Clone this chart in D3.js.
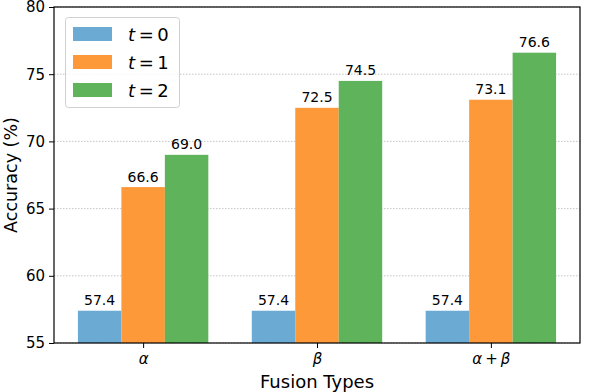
<!DOCTYPE html>
<html>
<head>
<meta charset="utf-8">
<script src="https://cdn.jsdelivr.net/npm/d3@7"></script>
<style>
  body { margin: 0; background: #fff; }
  text { font-family: "DejaVu Sans", sans-serif; }
</style>
</head>
<body>
<svg id="plot"></svg>
<script>
// categories and series
const categories = ['α', 'β', 'α + β']
const seriesNames = ['0', '1', '2']
const t0 = [57.4, 57.4, 57.4]
const t1 = [66.6, 72.5, 73.1]
const t2 = [69.0, 74.5, 76.6]
const yTicks = [55, 60, 65, 70, 75, 80]

const colors = ['#6aaad3', '#fd9938', '#5eb35b']
const series = [t0, t1, t2]

const width = 598
const height = 392
const margin = ({top: 7, right: 18, bottom: 49, left: 54})

const svg = d3.select('svg#plot')
  .attr('width', width)
  .attr('height', height)

// matplotlib-like x: bar width 0.25, default 5% margins
const barW = 0.25
const lo = -1.5 * barW, hi = 2 + 1.5 * barW
const pad = (hi - lo) * 0.05
const x = d3.scaleLinear()
  .domain([lo - pad, hi + pad])
  .range([margin.left, width - margin.right])
const y = d3.scaleLinear()
  .domain([55, 80])
  .range([height - margin.bottom, margin.top])

// grid
svg.append('g')
  .selectAll('line')
  .data(yTicks)
  .join('line')
    .attr('x1', margin.left)
    .attr('x2', width - margin.right)
    .attr('y1', d => y(d))
    .attr('y2', d => y(d))
    .attr('stroke', '#b8b8b8')
    .attr('stroke-width', 0.8)
    .attr('stroke-dasharray', '1.5,1.5')

// bars
series.forEach((vals, s) => {
  const g = svg.append('g')
  const off = (s - 1) * barW
  g.selectAll('rect')
    .data(vals)
    .join('rect')
      .attr('x', (d, i) => x(i + off - barW / 2))
      .attr('width', x(barW) - x(0))
      .attr('y', d => y(d))
      .attr('height', d => y(55) - y(d))
      .attr('fill', colors[s])
  g.selectAll('text')
    .data(vals)
    .join('text')
      .attr('x', (d, i) => x(i + off))
      .attr('y', d => y(d) - 5.5)
      .attr('text-anchor', 'middle')
      .attr('font-size', 14)
      .attr('fill', '#000')
      .text(d => d.toFixed(1))
})

// axes
const yAxis = svg.append('g')
  .attr('transform', `translate(${margin.left},0)`)
  .call(d3.axisLeft(y).tickValues(yTicks).tickSize(5).tickPadding(4))
yAxis.select('.domain').remove()
yAxis.selectAll('text').attr('font-size', 15).attr('font-family', 'DejaVu Sans')
yAxis.selectAll('line').attr('stroke-width', 1)

const xAxis = svg.append('g')
  .attr('transform', `translate(0,${height - margin.bottom})`)
  .call(d3.axisBottom(x).tickValues([0, 1, 2]).tickSize(5).tickPadding(5).tickFormat(i => categories[i]))
xAxis.select('.domain').remove()
xAxis.selectAll('text').attr('font-size', 15).attr('font-family', 'DejaVu Sans')
  .text(null)
  .each(function(i) {
    const t = d3.select(this)
    const parts = categories[i].split(' ')
    parts.forEach(p => {
      t.append('tspan')
        .attr('font-style', p === '+' ? 'normal' : 'italic')
        .text(p === '+' ? '\u2009+\u2009' : p)
    })
  })

// spines
svg.append('rect')
  .attr('x', margin.left)
  .attr('y', margin.top)
  .attr('width', width - margin.left - margin.right)
  .attr('height', height - margin.top - margin.bottom)
  .attr('fill', 'none')
  .attr('stroke', '#000')
  .attr('stroke-width', 1.2)

// axis labels
svg.append('text')
  .attr('x', (margin.left + width - margin.right) / 2)
  .attr('y', height - 4)
  .attr('text-anchor', 'middle')
  .attr('font-size', 18)
  .text('Fusion Types')
svg.append('text')
  .attr('transform', `translate(17, ${(margin.top + height - margin.bottom) / 2}) rotate(-90)`)
  .attr('text-anchor', 'middle')
  .attr('font-size', 17.5)
  .text('Accuracy (%)')

// legend
const legend = svg.append('g')
legend.append('rect')
  .attr('x', 65.5).attr('y', 17.5)
  .attr('width', 114).attr('height', 90)
  .attr('rx', 3)
  .attr('fill', '#fff')
  .attr('fill-opacity', 0.8)
  .attr('stroke', '#d0d0d0')
  .attr('stroke-width', 1)
seriesNames.forEach((n, s) => {
  const row = legend.append('g').attr('transform', `translate(0, ${27 + s * 28})`)
  row.append('rect')
    .attr('x', 73).attr('y', 0)
    .attr('width', 39).attr('height', 14)
    .attr('fill', colors[s])
  const t = row.append('text')
    .attr('x', 128).attr('y', 14)
    .attr('font-size', 18)
  t.append('tspan').attr('font-style', 'italic').text('t')
  t.append('tspan').text('\u2009=\u2009' + n)
})
</script>
</body>
</html>
